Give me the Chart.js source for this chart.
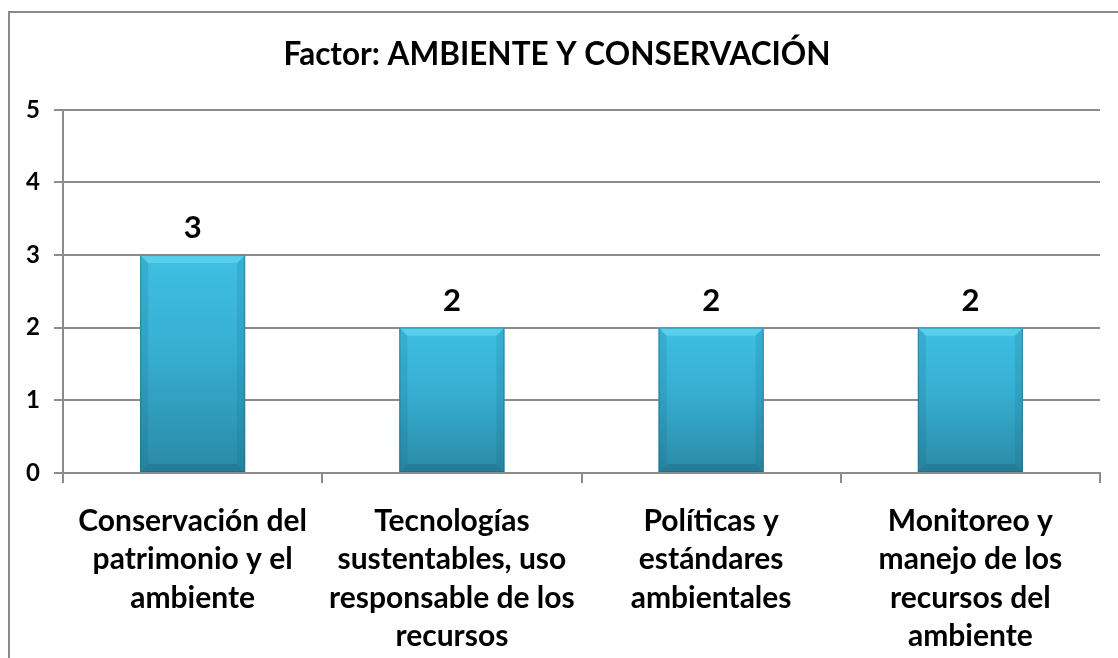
<!DOCTYPE html>
<html>
<head>
<meta charset="utf-8">
<script src="https://cdn.jsdelivr.net/npm/chart.js@4"></script>
<style>
html,body{margin:0;padding:0;background:#fff;}
#wrap{width:1118px;height:658px;}
</style>
</head>
<body>
<div id="wrap"><canvas id="chart" width="1118" height="658"></canvas></div>
<script>
var titulo = "Factor: AMBIENTE Y CONSERVACIÓN";
var categorias = [
	["Conservación del", "patrimonio y el", "ambiente"],
	["Tecnologías", "sustentables, uso", "responsable de los", "recursos"],
	["Políticas y", "estándares", "ambientales"],
	["Monitoreo y", "manejo de los", "recursos del", "ambiente"]
];
var valores = [3, 2, 2, 2];
var ticksY = [0, 1, 2, 3, 4, 5];

var fuente = "Lato, 'Open Sans', sans-serif";
var gris = "#8c8c8c";

var marco = {
	id: "marco",
	beforeDraw: function(chart){
		var c = chart.ctx;
		c.save();
		c.strokeStyle = "#8a8a8a";
		c.lineWidth = 2;
		c.beginPath();
		c.moveTo(9, 658);
		c.lineTo(9, 12);
		c.lineTo(1118, 12);
		c.stroke();
		c.restore();
	}
};

// degradado, bisel y etiquetas de valor de cada barra
var extras = {
	id: "extras",
	afterDatasetsDraw: function(chart){
		var c = chart.ctx;
		var meta = chart.getDatasetMeta(0);
		c.save();
		meta.data.forEach(function(bar, i){
			var w = bar.width, x0 = bar.x - w/2, x1 = bar.x + w/2;
			var y0 = bar.y, y1 = bar.base, b = 8;
			var g = c.createLinearGradient(0, y0, 0, y1);
			g.addColorStop(0, "#3fc0e3");
			g.addColorStop(0.45, "#36aed2");
			g.addColorStop(1, "#2a8aa6");
			c.fillStyle = g;
			c.fillRect(x0, y0, w, y1 - y0);
			// bisel superior
			c.fillStyle = "rgba(110,220,242,0.55)";
			c.beginPath();
			c.moveTo(x0, y0); c.lineTo(x1, y0); c.lineTo(x1-b, y0+b); c.lineTo(x0+b, y0+b);
			c.closePath(); c.fill();
			// laterales y base mas oscuros
			c.fillStyle = "rgba(20,90,115,0.15)";
			c.beginPath();
			c.moveTo(x0, y0); c.lineTo(x0+b, y0+b); c.lineTo(x0+b, y1-b); c.lineTo(x0, y1);
			c.closePath(); c.fill();
			c.beginPath();
			c.moveTo(x1, y0); c.lineTo(x1-b, y0+b); c.lineTo(x1-b, y1-b); c.lineTo(x1, y1);
			c.closePath(); c.fill();
			c.fillStyle = "rgba(20,80,100,0.25)";
			c.beginPath();
			c.moveTo(x0, y1); c.lineTo(x0+b, y1-b); c.lineTo(x1-b, y1-b); c.lineTo(x1, y1);
			c.closePath(); c.fill();
			c.strokeStyle = "rgba(30,100,125,0.5)";
			c.lineWidth = 1;
			c.strokeRect(x0+0.5, y0+0.5, w-1, y1-y0-1);
			// valor
			c.fillStyle = "#000";
			c.font = "bold 31px " + fuente;
			c.textAlign = "center";
			c.textBaseline = "alphabetic";
			c.fillText(String(valores[i]), bar.x, y0 - 17);
		});
		c.restore();
	}
};

var datos = {
	type: "bar",
	data: {
		labels: categorias,
		datasets: [{
			data: valores,
			backgroundColor: "#36aed2",
			borderWidth: 0,
			barPercentage: 0.405,
			categoryPercentage: 1
		}]
	},
	options: {
		responsive: false,
		animation: false,
		layout: { padding: { left: 14, right: 18, top: 0, bottom: 0 } },
		plugins: {
			legend: { display: false },
			tooltip: { enabled: false },
			title: {
				display: true,
				text: titulo,
				color: "#000",
				font: { family: fuente, size: 31.5, weight: "bold", lineHeight: 1.2 },
				padding: { top: 36, bottom: 36 }
			}
		},
		scales: {
			x: {
				grid: { display: true, offset: true, drawOnChartArea: false, drawTicks: true, tickLength: 10, color: gris, lineWidth: 2 },
				border: { display: true, color: gris, width: 2 },
				ticks: {
					color: "#000",
					padding: 19,
					maxRotation: 0,
					autoSkip: false,
					font: { family: fuente, size: 30, weight: "bold", lineHeight: 1.28 }
				},
				afterFit: function(s){ s.height = 185; }
			},
			y: {
				min: 0,
				max: 5,
				afterBuildTicks: function(s){ s.ticks = ticksY.map(function(v){ return { value: v }; }); },
				grid: { color: gris, lineWidth: 2, tickLength: 9 },
				border: { display: true, color: gris, width: 2 },
				ticks: {
					color: "#000",
					padding: 14,
					font: { family: fuente, size: 24, weight: "bold" }
				},
				afterFit: function(s){ s.width = 49; }
			}
		}
	},
	plugins: [marco, extras]
};

var canvas = document.getElementById("chart").getContext("2d");
window.barras = new Chart(canvas, datos);
</script>
</body>
</html>
